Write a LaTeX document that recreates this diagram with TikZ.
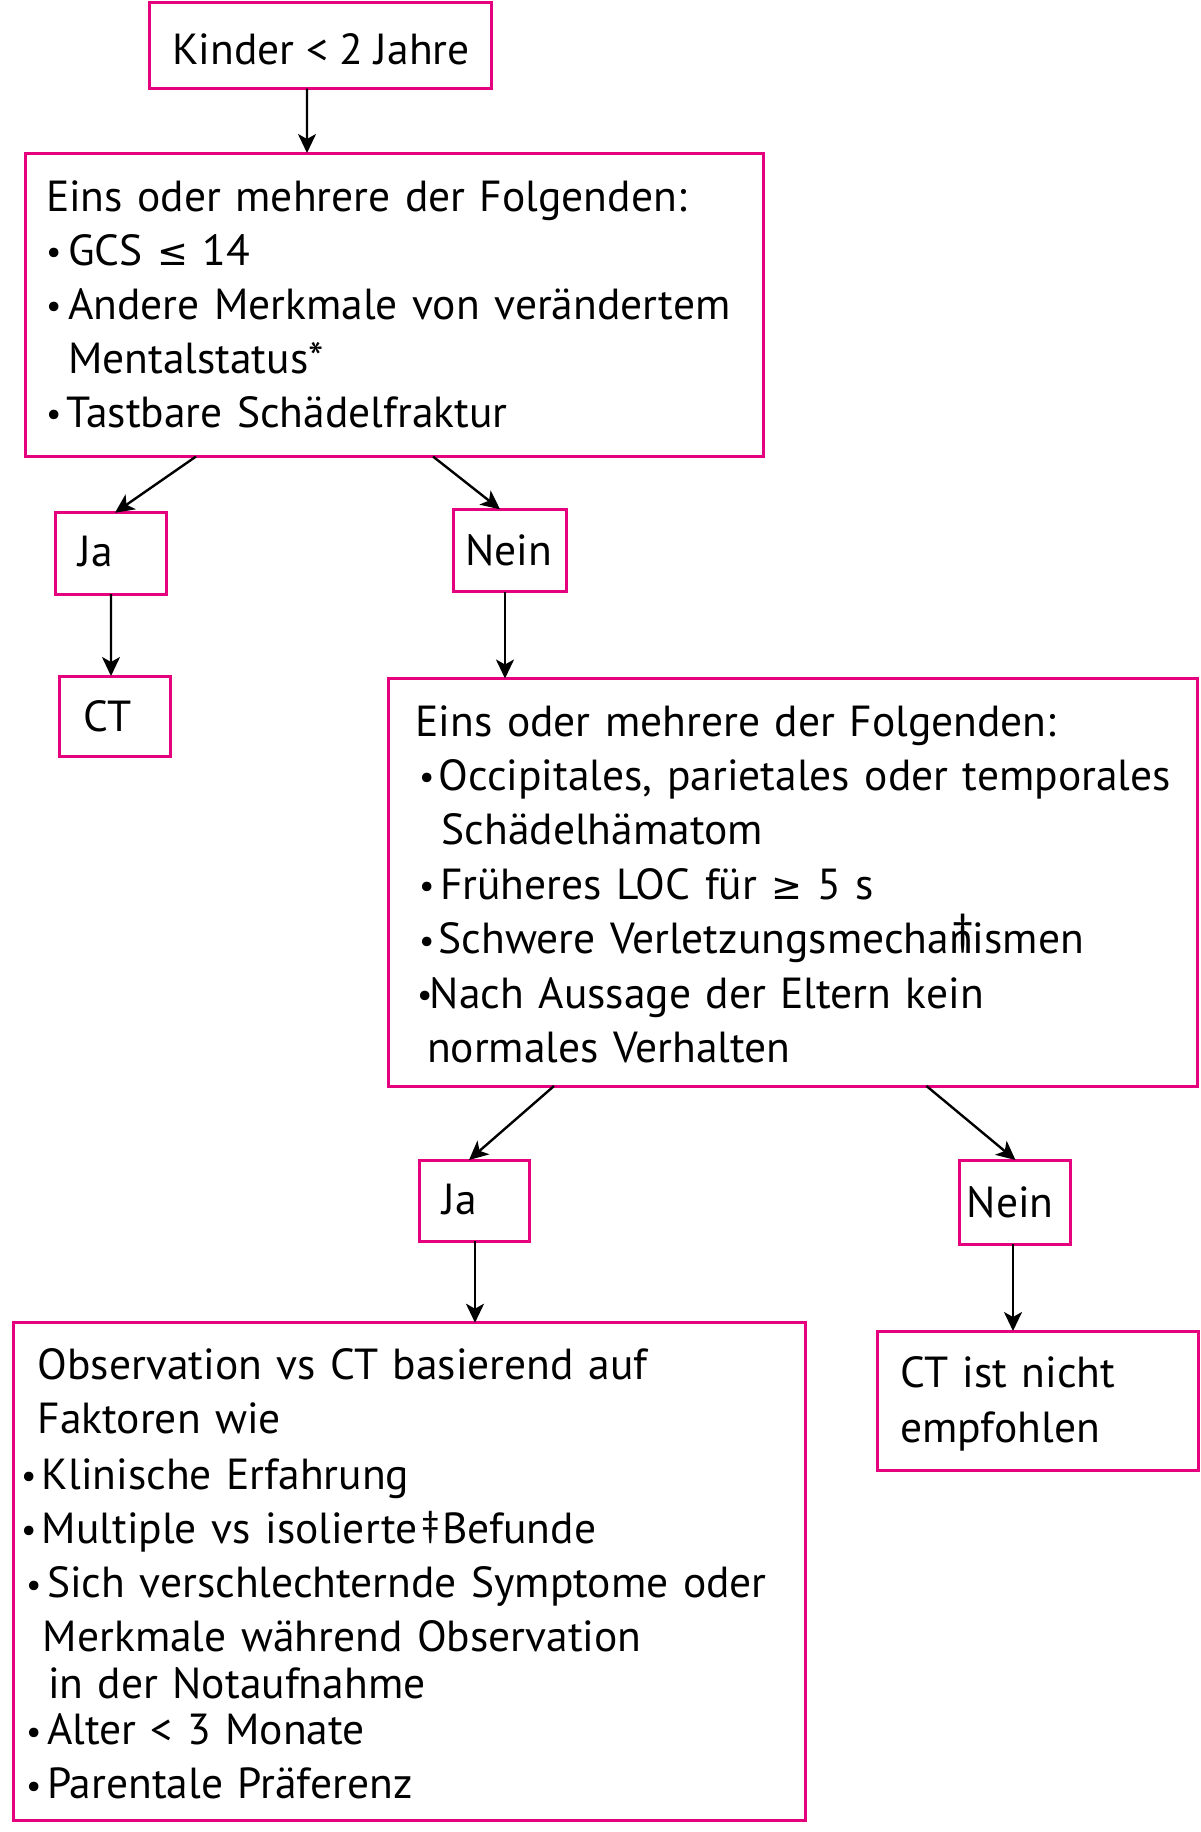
\documentclass[tikz,border=0pt]{standalone}
\usepackage{fontspec}
\setmainfont{PT Sans}
\newfontfamily\symf{DejaVu Sans}[Scale=0.85]
\usetikzlibrary{arrows.meta,calc}
\definecolor{pinkline}{RGB}{229,0,125}
\newcommand{\bul}[1]{\makebox[#1][l]{\raisebox{1.5pt}{\fontsize{34}{34}\selectfont •}}}
\newcommand{\leqs}{{\symf ≤}}
\newcommand{\geqs}{{\symf ≥}}
\begin{document}
\begin{tikzpicture}[x=1pt,y=-1pt,
  box/.style={draw=pinkline, line width=3pt, rectangle, inner sep=0pt, outer sep=0pt, anchor=north west},
  arr/.style={draw=black, line width=2.4pt, -{Stealth[length=19pt,width=18pt,inset=5pt]}},
  txt/.style={inner sep=0pt, outer sep=0pt, align=left, text width=820pt, anchor=base west, font=\fontsize{43.5}{54}\selectfont},
  lbl/.style={inner sep=0pt, outer sep=0pt, anchor=base west, font=\fontsize{43.5}{54}\selectfont}]
\useasboundingbox (0,0) rectangle (1200,1832);
\fill[white] (0,0) rectangle (1200,1832);
% boxes
\node[box, minimum width=342pt, minimum height=86pt] (b1) at (149.5,2.5) {};
\node[box, minimum width=737.7pt, minimum height=303.5pt] (b2) at (25.7,153) {};
\node[box, minimum width=111.2pt, minimum height=81.3pt] (ja1) at (55.5,512.7) {};
\node[box, minimum width=113.4pt, minimum height=82.4pt] (nein1) at (453.3,509.3) {};
\node[box, minimum width=111.1pt, minimum height=80pt] (ct) at (59.4,676) {};
\node[box, minimum width=808.8pt, minimum height=407.5pt] (b3) at (388.8,678.5) {};
\node[box, minimum width=110pt, minimum height=81pt] (ja2) at (419,1160) {};
\node[box, minimum width=110.9pt, minimum height=84pt] (nein2) at (959.5,1160) {};
\node[box, minimum width=791.5pt, minimum height=497.3pt] (b4) at (13.5,1322.7) {};
\node[box, minimum width=321pt, minimum height=139pt] (b5) at (877,1331) {};
% texts
\node[lbl, anchor=base] (t1) at (321,64) {Kinder < 2 Jahre};
\node[lbl] (tja1) at (78.5,566) {Ja};
\node[lbl] (tnein1) at (465,565) {Nein};
\node[lbl] (tct) at (83.5,731) {CT};
\node[lbl] (tja2) at (442.8,1214.3) {Ja};
\node[lbl] (tnein2) at (966.8,1217) {Nein};
\node[txt, font=\fontsize{43.5}{55}\selectfont] (t5) at (900.4,1387.7) {CT ist nicht\\empfohlen};
\node[txt] (t2) at (46,211) {Eins oder mehrere der Folgenden:\\
\bul{22pt}GCS \leqs\ 14\\
\bul{22pt}Andere Merkmale von verändertem\\
\hspace*{22pt}Mentalstatus*\\
\bul{20.5pt}Tastbare Schädelfraktur};
\node[txt, font=\fontsize{43.5}{54.4}\selectfont] (t3) at (415.6,736) {Eins oder mehrere der Folgenden:\\
\hspace*{3.4pt}\bul{19.6pt}Occipitales, parietales oder temporales\\
\hspace*{26pt}Schädelhämatom\\
\hspace*{3.4pt}\bul{21pt}Früheres LOC für \geqs\ 5 s\\
\hspace*{3.4pt}\bul{19.6pt}Schwere Verletzungsmecha\rlap{\hspace*{3pt}\raisebox{9pt}{\textdagger}}nismen\\
\hspace*{1.5pt}\bul{12.8pt}Nach Aussage der Eltern kein\\
\hspace*{11.4pt}normales Verhalten};
\node[txt] (t4) at (21,1379.5) {\hspace*{16.7pt}Observation vs CT basierend auf\\[-0.3pt]
\hspace*{16.7pt}Faktoren wie\\[2pt]
\bul{20.8pt}Klinische Erfahrung\\[-0.2pt]
\bul{20.8pt}Multiple vs isolierte\hspace{4pt}\raisebox{7pt}{\fontsize{36}{36}\selectfont\textdaggerdbl}\hspace{3pt}Befunde\\[0.8pt]
\hspace*{5pt}\bul{21pt}Sich verschlechternde Symptome oder\\[-0.3pt]
\hspace*{21.9pt}Merkmale während Observation\\[-7.3pt]
\hspace*{27pt}in der Notaufnahme\\[-7.3pt]
\hspace*{5pt}\bul{21pt}Alter < 3 Monate\\[-0.3pt]
\hspace*{5pt}\bul{21pt}Parentale Präferenz};
% connectors
\draw[arr] ([xshift=-13.5pt]b1.south) -- ([xshift=-87.55pt]b2.north);
\draw[arr] ([xshift=-198.55pt]b2.south) -- ([xshift=3.9pt]ja1.north);
\draw[arr] ([xshift=38.45pt]b2.south) -- ([xshift=-10pt]nein1.north);
\draw[arr] ([xshift=-0.1pt]ja1.south) -- ([xshift=-3.95pt]ct.north);
\draw[arr] ([xshift=-5pt]nein1.south) -- ([xshift=-288.2pt]b3.north);
\draw[arr] ([xshift=-239.2pt]b3.south) -- ([xshift=-5pt]ja2.north);
\draw[arr] ([xshift=133.3pt]b3.south) -- ([xshift=0.55pt]nein2.north);
\draw[arr] ([xshift=1pt]ja2.south) -- ([xshift=65.75pt]b4.north);
\draw[arr] ([xshift=-1.95pt]nein2.south) -- ([xshift=-24.5pt]b5.north);
\end{tikzpicture}
\end{document}
